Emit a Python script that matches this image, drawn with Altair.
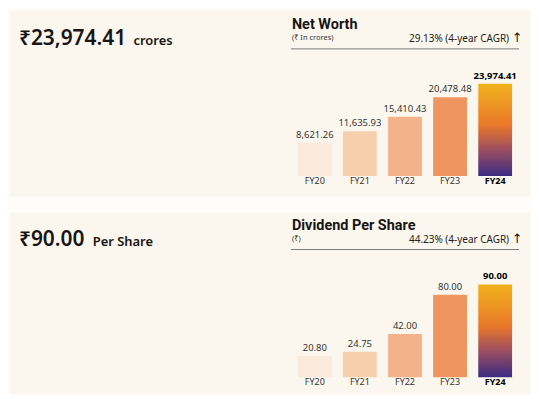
import altair as alt
import pandas as pd

years = ["FY20", "FY21", "FY22", "FY23", "FY24"]
net_worth = [8621.26, 11635.93, 15410.43, 20478.48, 23974.41]
dividend = [20.80, 24.75, 42.00, 80.00, 90.00]
net_worth_labels = ["8,621.26", "11,635.93", "15,410.43", "20,478.48", "23,974.41"]
dividend_labels = ["20.80", "24.75", "42.00", "80.00", "90.00"]
bar_colors = ["#faeadc", "#f8cfac", "#f4b28a", "#ef9660", "#ef9660"]

grad_stops = [("#f2b21c", 0.0), ("#e9782a", 0.45), ("#9a4d62", 0.72), ("#3a2b82", 1.0)]

FONT = "Noto Sans"
INK = "#161616"


def one_text(text, x, y, size, weight="normal", align="left", color=INK, font=FONT):
    return alt.Chart(pd.DataFrame({"t": [text]})).mark_text(
        align=align, baseline="alphabetic", fontSize=size, fontWeight=weight,
        color=color, font=font
    ).encode(x=alt.value(x), y=alt.value(y), text="t:N")


def panel(values, labels, big, unit, unit_x, title, sub, cagr, base, ppu, top_y, H):
    df = pd.DataFrame({"year": years, "value": values, "label": labels, "color": bar_colors})
    dmax = max(values) * 1.05
    xs = alt.X("year:N", scale=alt.Scale(domain=years, range=[290, 505], paddingInner=0.25,
                                          paddingOuter=0), axis=None)
    ys = alt.Y("value:Q", scale=alt.Scale(domain=[0, dmax], range=[base, base - dmax * ppu],
                                          nice=False, zero=True), axis=None)
    base_chart = alt.Chart(df)
    bars = base_chart.mark_bar().encode(
        x=xs, y=ys, color=alt.Color("color:N", scale=None)
    ).transform_filter(alt.datum.year != "FY24")
    grad = alt.LinearGradient(
        gradient="linear", x1=0, x2=0, y1=0, y2=1,
        stops=[alt.GradientStop(color=c, offset=o) for c, o in grad_stops])
    last_bar = base_chart.mark_bar(color=grad).encode(x=xs, y=ys).transform_filter(
        alt.datum.year == "FY24")
    vlab = base_chart.mark_text(baseline="alphabetic", dy=-5, fontSize=9.5, color="#333333",
                                font=FONT).encode(x=xs, y=ys, text="label:N").transform_filter(
        alt.datum.year != "FY24")
    vlab_b = base_chart.mark_text(baseline="alphabetic", dy=-5, fontSize=9.5, color="#000000",
                                  fontWeight="bold", font=FONT).encode(
        x=xs, y=ys, text="label:N").transform_filter(alt.datum.year == "FY24")
    ylab = base_chart.mark_text(baseline="middle", dy=5, fontSize=9, color="#333333",
                                font=FONT).encode(x=xs, y=alt.datum(0), text="year:N").transform_filter(
        alt.datum.year != "FY24")
    ylab_b = base_chart.mark_text(baseline="middle", dy=5, fontSize=9, color="#000000",
                                  fontWeight="bold", font=FONT).encode(
        x=xs, y=alt.datum(0), text="year:N").transform_filter(alt.datum.year == "FY24")

    rule = alt.Chart(pd.DataFrame({"a": [0]})).mark_rule(color="#7a7a7a", strokeWidth=1).encode(
        x=alt.value(283), x2=alt.value(512), y=alt.value(top_y + 20))

    texts = [
        one_text(big, 10, top_y + 16, 21, weight=600),
        one_text(unit, unit_x, top_y + 16, 13, weight=600),
        one_text(title, 284, top_y, 14.5, weight="bold", font="Roboto"),
        one_text(sub, 284, top_y + 11, 7.5, color="#333333"),
        one_text(cagr, 502, top_y + 13.2, 10, align="right", color="#222222"),
        one_text("↑", 510, top_y + 13.5, 13, align="center", font="DejaVu Sans"),
    ]
    return alt.layer(bars, last_bar, vlab, vlab_b, ylab, ylab_b, rule, *texts).properties(
        width=523, height=H)


top = panel(net_worth, net_worth_labels, "₹23,974.41", "crores", 125, "Net Worth",
            "(₹ In crores)", "29.13% (4-year CAGR)", 167, 92.8 / 23974.41, 19.3, 187)
bottom = panel(dividend, dividend_labels, "₹90.00", "Per Share", 84, "Dividend Per Share",
               "(₹)", "44.23% (4-year CAGR)", 166, 93.3 / 90.0, 17.7, 182)

chart = alt.vconcat(top, bottom, spacing=14).properties(
    padding=0, background="#fefdfa"
).configure_view(fill="#fcf7ee", stroke="transparent")

chart.save("out.html", embed_options={"renderer": "svg", "actions": False})
